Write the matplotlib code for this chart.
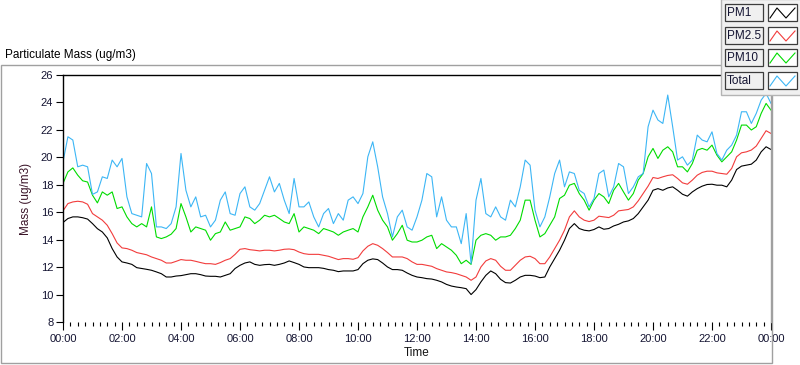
import numpy as np
import matplotlib
matplotlib.use('Agg')
import matplotlib.pyplot as plt
from matplotlib.patches import Rectangle
from matplotlib.ticker import MultipleLocator, FuncFormatter

plt.rcParams['font.family'] = ['Liberation Sans', 'DejaVu Sans']

# samples every 10 minutes, 00:00 -> 24:00
hours = np.arange(145) / 6.0

pm1 = [15.25, 15.54, 15.66, 15.66, 15.6, 15.5, 15.17, 14.8, 14.56, 14.13,
       13.35, 12.74, 12.38, 12.3, 12.2, 11.96, 11.9, 11.84, 11.77, 11.65,
       11.52, 11.28, 11.28, 11.35, 11.38, 11.45, 11.52, 11.52, 11.45, 11.35,
       11.33, 11.33, 11.28, 11.4, 11.52, 11.9, 12.13, 12.3, 12.38, 12.2,
       12.13, 12.18,
       12.2, 12.13, 12.2, 12.3, 12.45, 12.33, 12.2, 12.01, 11.96, 11.96,
       11.96, 11.91, 11.82, 11.77, 11.67, 11.72, 11.72, 11.72, 11.82, 12.25,
       12.5, 12.6, 12.55, 12.3, 12.01, 11.82, 11.82, 11.77, 11.57, 11.4,
       11.28, 11.23, 11.16, 11.13, 11.04, 10.92, 10.74, 10.62, 10.55, 10.5,
       10.43, 10.0, 10.36, 10.92, 11.4, 11.72, 11.52, 11.11, 10.87, 10.84,
       11.04, 11.28, 11.4,
       11.4, 11.35, 11.23, 11.28, 12.01, 12.62, 13.23, 13.96, 14.81, 15.17,
       14.81, 14.69, 14.64, 14.74, 14.93, 14.76, 14.81, 15.0, 15.12, 15.29,
       15.37, 15.54, 15.9, 16.39, 16.88, 17.6, 17.72, 17.6, 17.77, 17.85,
       17.6, 17.31, 17.17, 17.48, 17.72, 17.9, 18.02, 18.04, 17.97, 17.97,
       17.85, 18.34, 19.11, 19.36, 19.43, 19.5, 19.8, 20.4, 20.77, 20.57]

pm25 = [16.1, 16.63, 16.75, 16.8, 16.75, 16.58, 15.9, 15.66, 15.42, 15.05,
        14.44, 13.76, 13.4, 13.35, 13.23, 13.06, 12.98, 12.9, 12.74, 12.62,
        12.5, 12.3, 12.3, 12.42, 12.55, 12.5, 12.5, 12.42, 12.33, 12.25,
        12.25, 12.2, 12.33, 12.5, 12.62, 12.93, 13.3, 13.35, 13.27, 13.23,
        13.18, 13.23,
        13.23, 13.18, 13.23, 13.3, 13.32, 13.27, 13.1, 12.98, 12.93, 12.93,
        12.93, 12.86, 12.79, 12.67, 12.55, 12.62, 12.62, 12.57, 12.69, 13.18,
        13.52, 13.71, 13.59, 13.35, 13.06, 12.74, 12.74, 12.74, 12.62, 12.38,
        12.2, 12.2, 12.13, 12.06, 11.89, 11.77, 11.65, 11.6, 11.52, 11.4,
        11.28, 11.04, 11.28, 12.01, 12.45, 12.62, 12.5, 12.06, 11.77, 11.77,
        12.13, 12.5, 12.74,
        12.79, 12.62, 12.25, 12.25, 12.74, 13.35, 13.96, 14.69, 15.66, 16.1,
        15.66, 15.42, 15.32, 15.42, 15.71, 15.66, 15.61, 15.78, 16.1, 16.15,
        16.2, 16.39, 16.83, 17.36, 17.9, 18.53, 18.46, 18.58, 18.68, 18.73,
        18.46, 18.14, 18.04, 18.34, 18.7, 18.9, 18.99, 18.99, 18.87, 18.82,
        18.77, 19.19, 20.04, 20.33, 20.4, 20.53, 20.82, 21.38, 21.94, 21.74]

pm10 = [18.1, 18.94, 19.23, 18.7, 18.29, 18.2, 17.24, 16.68, 17.48, 17.24,
        17.48, 16.27, 16.39, 15.66, 15.17, 14.93, 15.17, 14.93, 16.39, 14.2,
        14.08, 14.2, 14.4, 14.81, 16.63, 15.66, 14.56, 14.93, 14.81, 14.69,
        13.96, 14.44, 14.56, 15.29, 14.69, 14.81, 14.93, 15.66, 15.54, 15.17,
        15.42, 15.78,
        15.66, 15.78, 15.54, 15.29, 15.17, 15.9, 14.56, 14.93, 14.81, 14.69,
        14.44, 14.81, 14.69, 14.56, 14.32, 14.56, 14.69, 14.81, 14.56, 15.66,
        16.39, 17.24, 16.15, 15.42, 14.93, 13.96, 14.44, 15.05, 13.96, 13.83,
        13.83, 13.96, 14.2, 14.32, 13.35, 13.71, 13.47, 13.23, 12.86, 12.25,
        12.5, 12.2, 13.96, 14.32, 14.44, 14.32, 13.96, 14.2, 14.2, 14.32,
        14.81, 15.42, 16.88,
        16.88, 15.42, 14.2, 14.44, 15.05, 15.66, 17.0, 17.24, 17.97, 18.1,
        17.36, 16.88, 16.15, 16.88, 17.36, 17.12, 16.63, 17.6, 18.1, 17.48,
        16.88, 17.36, 18.34, 18.82, 20.04, 20.65, 19.92, 20.52, 20.77, 20.4,
        19.31, 19.31, 18.94, 19.55, 20.52, 20.65, 20.52, 20.89, 20.16, 19.67,
        20.04, 20.4, 21.26, 22.35, 22.35, 21.99, 22.23, 23.2, 23.93, 23.44]

total = [19.67, 21.5, 21.26, 19.31, 19.43, 19.31, 17.3, 17.48, 18.58, 18.46,
         19.8, 19.31, 19.92, 17.12, 15.9, 15.78, 15.66, 19.55, 18.82, 14.93,
         14.93, 14.81, 15.17, 16.39, 20.28, 17.6, 16.39, 17.12, 15.66, 15.78,
         14.93, 15.42, 16.88, 17.48, 15.9, 15.78, 17.36, 17.85, 16.39, 16.15,
         16.63, 17.6,
         18.58, 17.48, 18.1, 16.88, 15.9, 18.46, 16.39, 16.39, 16.75, 15.66,
         14.93, 15.9, 16.27, 15.17, 15.9, 15.42, 16.88, 17.12, 16.63, 17.36,
         20.04, 21.13, 19.31, 17.12, 15.9, 14.2, 15.66, 16.15, 14.93, 14.69,
         15.66, 16.88, 18.82, 18.58, 15.66, 17.12, 15.42, 14.93, 14.93, 13.71,
         15.9, 12.25, 16.88, 18.46, 15.9, 15.66, 16.39, 15.66, 15.42, 16.88,
         16.39, 17.85, 19.8,
         19.43, 16.15, 14.93, 15.66, 17.12, 18.82, 19.8, 17.85, 18.94, 18.82,
         17.6, 17.36, 16.39, 17.0, 18.82, 19.07, 17.12, 17.85, 19.55, 19.31,
         17.36, 17.85, 18.58, 18.82, 22.23, 23.44, 22.72, 22.47, 24.54, 22.23,
         19.8, 20.04, 19.43, 19.8, 21.62, 21.26, 21.13, 21.86, 20.28, 19.8,
         20.52, 20.89, 21.62, 23.32, 23.32, 22.47, 23.2, 24.17, 24.66, 23.93]

names = ['PM1', 'PM2.5', 'PM10', 'Total']
colors = ['#000000', '#f23c3c', '#00dc00', '#3cb6f5']
series = [pm1, pm25, pm10, total]

W, H = 800, 365
fig = plt.figure(figsize=(W / 100, H / 100), dpi=100)

# plot area in pixels: x 63..771, y 75..322
ax = fig.add_axes([63 / W, (H - 322) / H, (771 - 63) / W, (322 - 75) / H])
for vals, c in zip(series, colors):
    ax.plot(hours, vals, color=c, lw=0.8)

ax.set_xlim(0, 24)
ax.set_ylim(8, 26)
ax.xaxis.set_major_locator(MultipleLocator(2))
ax.xaxis.set_minor_locator(MultipleLocator(0.25))
ax.yaxis.set_major_locator(MultipleLocator(2))
ax.xaxis.set_major_formatter(FuncFormatter(lambda v, p: f"{int(round(v)) % 24:02d}:00"))

tick_col = '#141432'
ax.tick_params(axis='x', which='major', length=6, width=0.8, pad=3, labelsize=8, labelcolor=tick_col)
ax.tick_params(axis='x', which='minor', length=3, width=0.8)
ax.tick_params(axis='y', which='major', length=5, width=0.8, pad=2, labelsize=8, labelcolor=tick_col)

ax.spines['bottom'].set_visible(False)
ax.spines['left'].set_linewidth(1.0)
ax.spines['top'].set_linewidth(1.0)
ax.spines['right'].set_color('#a0a0a0')
ax.spines['right'].set_linewidth(1.0)

ax.set_xlabel('Time', fontsize=8.5, color='#141414', labelpad=2)
ax.set_ylabel('Mass (ug/m3)', fontsize=8.5, color='#3a1428', labelpad=6)

# overlay for the outer frame, title and legend panel
ov = fig.add_axes([0, 0, 1, 1], zorder=5)
ov.set_xlim(0, W)
ov.set_ylim(H, 0)
ov.axis('off')
ov.patch.set_alpha(0)

ov.add_patch(Rectangle((1, 65), 770.5, 298, fill=False, ec='#a0a0a0', lw=1.0))
ov.text(5, 55, 'Particulate Mass (ug/m3)', fontsize=8.5, va='center', ha='left', color='#000000')

ov.add_patch(Rectangle((721, -1), 80, 96, fc='#f0f0f0', ec='#b4b4b4', lw=1.0))
row_tops = [4, 27, 49, 72]
for name, c, top in zip(names, colors, row_tops):
    ov.add_patch(Rectangle((725, top), 38, 17, fc='#f0f0f0', ec='#3c3c3c', lw=0.9))
    ov.text(727, top + 8.8, name, fontsize=8.5, va='center', ha='left', color=tick_col)
    ov.add_patch(Rectangle((768, top), 29, 17, fc='#ffffff', ec='#3c3c3c', lw=0.9))
    ov.plot([770, 777, 786, 795], [top + 14, top + 4, top + 14, top + 4], color=c, lw=0.8)

fig.savefig('out.png', dpi=100)
